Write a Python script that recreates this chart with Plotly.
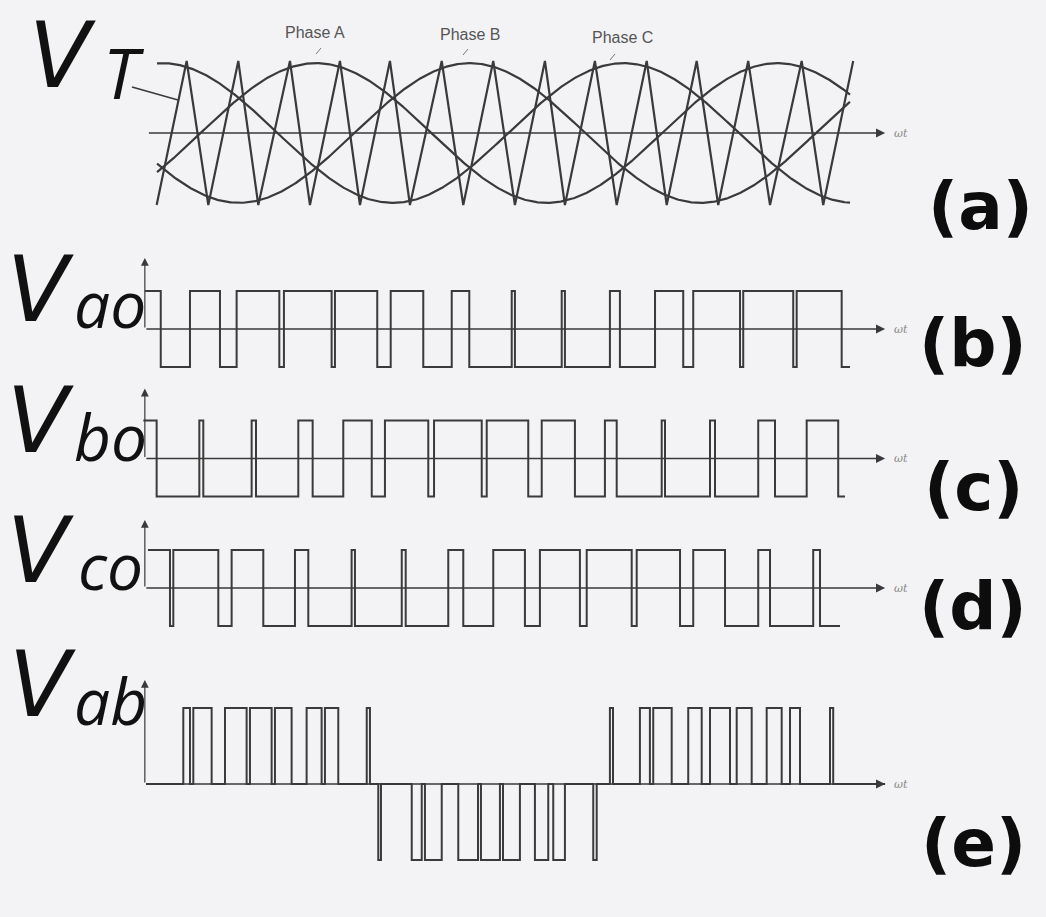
import numpy as np
import plotly.graph_objects as go

# Time base: ωt in electrical degrees, phase A reaching its peak at 90°.
AXIS_START, AXIS_END = -43.5, 534.0

# (a) sinusoidal references and triangular carrier
ref_names = ["Phase A", "Phase B", "Phase C"]
ref_shift_deg = [0, -120, 120]
ref_peak = 0.97
ref_from, ref_to = -34.0, 506.6

carrier_wt = [-34.3, -10.9, 6.0, 29.4, 45.0, 69.7, 85.3, 108.7, 124.3, 147.7,
              163.3, 188.1, 204.9, 228.3, 245.2, 268.6, 284.2, 307.6, 324.6,
              348.0, 363.6, 387.0, 403.8, 427.2, 444.2, 468.9, 485.7, 509.1]
carrier_lvl = [-1, 1] * 14

# (b)-(d) pole voltages: first level, then the level toggles at every instant
vao_first = 1
vao_edges = [-43.4, -31.1, -8.3, 15.1, 28.1, 61.4, 65.0, 102.2, 104.8, 137.8,
             148.3, 173.7, 195.9, 209.6, 242.7, 245.2, 281.7, 284.2, 319.3,
             327.1, 354.5, 376.5, 384.3, 420.8, 423.3, 462.3, 465.0, 500.1, 506.6]

vbo_first = 1
vbo_edges = [-44.7, -34.3, -1.0, 2.1, 39.8, 43.2, 76.2, 87.4, 111.3, 133.5,
             143.8, 177.6, 182.1, 219.3, 223.2, 255.6, 266.1, 292.0, 315.4,
             324.6, 359.7, 362.3, 397.4, 401.3, 435.0, 448.1, 472.8, 497.4, 502.7]

vco_first = 1
vco_edges = [-41.1, -23.9, -21.3, 13.8, 24.2, 48.9, 73.6, 84.0, 117.8, 120.4,
             156.9, 160.0, 193.2, 204.9, 228.3, 253.0, 264.7, 295.9, 301.2,
             336.3, 340.2, 374.0, 384.3, 409.1, 435.0, 444.2, 477.9, 483.2, 498.8]

# (e) line-to-line voltage: instant and level from that instant on
vab_wt = [-42.6, -13.5, -8.3, -5.7, 8.6, 19.0, 35.9, 38.5, 55.4, 58.0, 71.0,
          82.7, 94.4, 97.0, 107.4, 129.6, 132.1,
          138.6, 140.7, 164.7, 172.5, 175.0, 188.1, 201.0, 216.4, 218.7, 233.5,
          235.9, 249.1, 260.8, 271.2, 275.1, 284.2, 306.3, 309.0,
          319.3, 321.7, 342.7, 350.5, 353.1, 367.5, 380.4, 390.9, 397.4, 413.0,
          418.2, 429.9, 441.6, 453.3, 459.8, 467.6, 491.0, 493.5, 534.0]
vab_lvl = [0, 1, 0, 1, 0, 1, 0, 1, 0, 1, 0,
           1, 0, 1, 0, 1, 0,
           -1, 0, -1, 0, -1, 0, -1, 0, -1, 0,
           -1, 0, -1, 0, -1, 0, -1, 0,
           1, 0, 1, 0, 1, 0, 1, 0, 1, 0,
           1, 0, 1, 0, 1, 0, 1, 0, 0]

INK = "#3a3a3a"
BG = "#f3f3f5"
W, H = 1046, 917


def toggled(first, edges):
    levels, lvl = [], first
    for _ in edges:
        levels.append(lvl)
        lvl = -lvl
    levels[-1] = levels[-2]
    return levels


fig = go.Figure()

# panel (a)
wt = np.linspace(ref_from, ref_to, 700)
for shift in ref_shift_deg:
    fig.add_trace(go.Scatter(x=wt, y=ref_peak * np.sin(np.radians(wt + shift)),
                             mode="lines", line=dict(color=INK, width=2.2),
                             xaxis="x", yaxis="y"))
fig.add_trace(go.Scatter(x=carrier_wt, y=carrier_lvl, mode="lines",
                         line=dict(color=INK, width=2.2), xaxis="x", yaxis="y"))

# panels (b)-(d)
for axis, first, edges in (("y2", vao_first, vao_edges),
                           ("y3", vbo_first, vbo_edges),
                           ("y4", vco_first, vco_edges)):
    fig.add_trace(go.Scatter(x=edges, y=toggled(first, edges), mode="lines",
                             line=dict(color=INK, width=2, shape="hv"),
                             xaxis="x", yaxis=axis))

# panel (e)
fig.add_trace(go.Scatter(x=vab_wt, y=vab_lvl, mode="lines",
                         line=dict(color=INK, width=2, shape="hv"),
                         xaxis="x", yaxis="y5"))


def px_dom(top_px, bottom_px):
    return [1 - bottom_px / H, 1 - top_px / H]


hidden = dict(visible=False, fixedrange=True)
fig.update_layout(
    width=W, height=H, margin=dict(l=0, r=0, t=0, b=0),
    paper_bgcolor=BG, plot_bgcolor=BG, showlegend=False,
    xaxis=dict(range=[-156.5, 659.5], domain=[0, 1], anchor="y", **hidden),
    yaxis=dict(range=[-1.8, 1.8], domain=px_dom(3.4, 262.6), anchor="x", **hidden),
    yaxis2=dict(range=[-2, 2], domain=px_dom(253, 405), anchor="x", **hidden),
    yaxis3=dict(range=[-2, 2], domain=px_dom(382.5, 534.5), anchor="x", **hidden),
    yaxis4=dict(range=[-2, 2], domain=px_dom(512, 664), anchor="x", **hidden),
    yaxis5=dict(range=[-1.6, 1.6], domain=px_dom(662.4, 905.6), anchor="x", **hidden),
)


def label(text, cx, cy, font):
    return dict(x=cx / W, y=1 - cy / H, xref="paper", yref="paper", text=text,
                showarrow=False, xanchor="center", yanchor="middle", font=font)


ann = []
# time axes with arrow heads
for yref, top in (("y", None), ("y2", 1.87), ("y3", 1.84), ("y4", 1.79), ("y5", 1.37)):
    ann.append(dict(x=AXIS_END, y=0, ax=AXIS_START if top else AXIS_START + 2, ay=0,
                    xref="x", yref=yref, axref="x", ayref=yref, text="",
                    showarrow=True, arrowhead=2, arrowsize=1.3, arrowwidth=1.4,
                    arrowcolor=INK))
    ann.append(dict(x=AXIS_END + 5, y=0, xref="x", yref=yref, text="ωt",
                    showarrow=False, xanchor="left", yanchor="middle",
                    font=dict(family="DejaVu Serif", size=11, color="#888",
                              style="italic")))
    if top:
        ann.append(dict(x=AXIS_START, y=top, ax=AXIS_START, ay=0,
                        xref="x", yref=yref, axref="x", ayref=yref, text="",
                        showarrow=True, arrowhead=2, arrowsize=1.3, arrowwidth=1.2,
                        arrowcolor=INK))

# phase labels
for name, cx, cy in zip(ref_names, [315, 470, 622], [33, 35, 37]):
    ann.append(label(name, cx, cy, dict(family="Liberation Sans", size=16, color="#555")))

# V labels: the letter V and its subscript
V_FONT = dict(family="DejaVu Sans", size=90, color="#111", style="italic")
SUB_FONT = dict(family="Open Sans", size=64, color="#111", style="italic")
T_FONT = dict(family="Open Sans", size=70, color="#111", style="italic")
for v_xy, sub, sub_xy in (((62, 56), "T", (124, 72)),
                          ((40, 290), "ao", (110, 304)),
                          ((40, 420), "bo", (110, 436)),
                          ((40, 550), "co", (110, 565)),
                          ((42, 684), "ab", (110, 700))):
    ann.append(label("V", v_xy[0], v_xy[1], V_FONT))
    ann.append(label(sub, sub_xy[0], sub_xy[1], T_FONT if sub == "T" else SUB_FONT))

# panel tags
TAG_FONT = dict(family="DejaVu Sans", size=66, color="#0d0d0d", weight="bold")
for tag, cx, cy in (("(a)", 980, 207), ("(b)", 973, 343), ("(c)", 973, 487),
                    ("(d)", 973, 606), ("(e)", 973, 843)):
    ann.append(label(tag, cx, cy, TAG_FONT))

fig.update_layout(annotations=ann)

# leader from the V_T tag to the carrier, and the tiny phase-label leaders
shapes = [dict(type="line", xref="paper", yref="paper",
               x0=132 / W, y0=1 - 87 / H, x1=178 / W, y1=1 - 100 / H,
               line=dict(color=INK, width=1.6))]
for x0, y0, x1, y1 in ((316, 54, 321, 48), (463, 55, 468, 49), (610, 60, 615, 54)):
    shapes.append(dict(type="line", xref="paper", yref="paper",
                       x0=x0 / W, y0=1 - y0 / H, x1=x1 / W, y1=1 - y1 / H,
                       line=dict(color="#777", width=1)))
fig.update_layout(shapes=shapes)

fig.write_html("out.html")
